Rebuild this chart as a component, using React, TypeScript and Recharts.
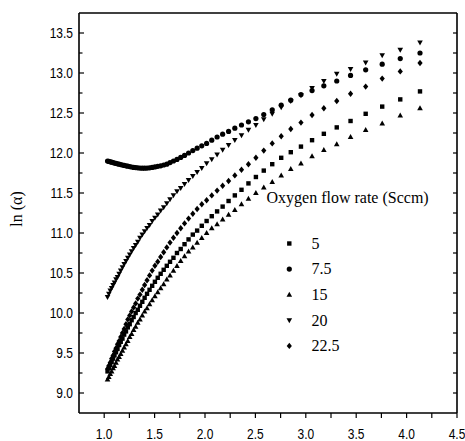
import React from 'react';
import { ScatterChart, Scatter, XAxis, YAxis } from 'recharts';

// Photon energy (eV) shared by all series
const energy = [
  1.033, 1.046, 1.060, 1.074, 1.088, 1.102, 1.117, 1.132, 1.148, 1.164,
  1.181, 1.198, 1.216, 1.234, 1.253, 1.272, 1.292, 1.312, 1.333, 1.355,
  1.378, 1.401, 1.425, 1.450, 1.476, 1.503, 1.531, 1.560, 1.590, 1.621,
  1.653, 1.687, 1.722, 1.759, 1.797, 1.837, 1.879, 1.922, 1.968, 2.016,
  2.067, 2.120, 2.175, 2.234, 2.296, 2.362, 2.431, 2.505, 2.583, 2.667,
  2.756, 2.851, 2.952, 3.062, 3.179, 3.307, 3.444, 3.594, 3.758, 3.937,
  4.133,
];

// ln(alpha) for oxygen flow 5 sccm
const flow5 = [
  9.27, 9.31, 9.35, 9.39, 9.43, 9.47, 9.51, 9.55, 9.60, 9.64,
  9.68, 9.73, 9.77, 9.82, 9.86, 9.91, 9.95, 10.00, 10.04, 10.09,
  10.14, 10.19, 10.24, 10.29, 10.34, 10.39, 10.44, 10.49, 10.54, 10.59,
  10.64, 10.69, 10.75, 10.80, 10.86, 10.92, 10.98, 11.03, 11.09, 11.15,
  11.21, 11.27, 11.33, 11.40, 11.47, 11.54, 11.62, 11.70, 11.78, 11.86,
  11.94, 12.01, 12.08, 12.16, 12.24, 12.32, 12.40, 12.49, 12.58, 12.67,
  12.77,
];

// 7.5 sccm
const flow7_5 = [
  11.90, 11.895, 11.89, 11.885, 11.88, 11.875, 11.87, 11.865, 11.86, 11.855,
  11.85, 11.845, 11.84, 11.835, 11.83, 11.825, 11.82, 11.818, 11.815, 11.812,
  11.81, 11.81, 11.812, 11.815, 11.82, 11.826, 11.833, 11.84, 11.85, 11.86,
  11.88, 11.90, 11.92, 11.945, 11.97, 12.00, 12.03, 12.06, 12.09, 12.12,
  12.16, 12.20, 12.235, 12.27, 12.31, 12.35, 12.39, 12.43, 12.48, 12.54,
  12.60, 12.66, 12.73, 12.78, 12.84, 12.90, 12.97, 13.04, 13.11, 13.18,
  13.25,
];

// 15 sccm
const flow15 = [
  9.17, 9.20, 9.24, 9.27, 9.31, 9.34, 9.38, 9.42, 9.45, 9.49,
  9.53, 9.57, 9.61, 9.65, 9.70, 9.74, 9.79, 9.83, 9.88, 9.92,
  9.97, 10.02, 10.06, 10.11, 10.16, 10.21, 10.26, 10.31, 10.36, 10.42,
  10.47, 10.53, 10.59, 10.65, 10.71, 10.77, 10.82, 10.88, 10.94, 11.00,
  11.06, 11.11, 11.17, 11.23, 11.29, 11.36, 11.43, 11.50, 11.57, 11.64,
  11.72, 11.80, 11.87, 11.96, 12.04, 12.11, 12.20, 12.29, 12.37, 12.47,
  12.56,
];

// 20 sccm
const flow20 = [
  10.20, 10.24, 10.28, 10.31, 10.35, 10.38, 10.42, 10.45, 10.49, 10.53,
  10.57, 10.61, 10.65, 10.69, 10.73, 10.77, 10.81, 10.85, 10.89, 10.94,
  10.98, 11.02, 11.06, 11.10, 11.15, 11.19, 11.23, 11.28, 11.32, 11.37,
  11.42, 11.47, 11.52, 11.56, 11.61, 11.66, 11.71, 11.76, 11.81, 11.87,
  11.92, 11.98, 12.04, 12.10, 12.16, 12.22, 12.29, 12.35, 12.42, 12.49,
  12.57, 12.65, 12.72, 12.81, 12.90, 12.99, 13.05, 13.13, 13.22, 13.29,
  13.38,
];

// 22.5 sccm
const flow22_5 = [
  9.30, 9.34, 9.38, 9.43, 9.47, 9.52, 9.56, 9.61, 9.65, 9.70,
  9.75, 9.80, 9.86, 9.92, 9.97, 10.02, 10.07, 10.12, 10.18, 10.23,
  10.29, 10.35, 10.41, 10.47, 10.53, 10.59, 10.64, 10.70, 10.76, 10.82,
  10.88, 10.94, 11.00, 11.06, 11.12, 11.18, 11.24, 11.30, 11.36, 11.41,
  11.47, 11.53, 11.59, 11.65, 11.72, 11.79, 11.86, 11.94, 12.03, 12.12,
  12.21, 12.30, 12.38, 12.475, 12.56, 12.65, 12.74, 12.83, 12.93, 13.02,
  13.125,
];

const seriesNames = ['5', '7.5', '15', '20', '22.5'];
const xTicks = [1.0, 1.25, 1.5, 1.75, 2.0, 2.25, 2.5, 2.75, 3.0, 3.25, 3.5, 3.75, 4.0, 4.25, 4.5];
const yTicks = [9.0, 9.25, 9.5, 9.75, 10.0, 10.25, 10.5, 10.75, 11.0, 11.25, 11.5, 11.75, 12.0, 12.25, 12.5, 12.75, 13.0, 13.25, 13.5];
const xDomain = [0.75, 4.5];
const yDomain = [8.75, 13.75];

const toPoints = (vals: number[]) => energy.map((x, i) => ({ x, y: vals[i] }));

const TICK_FONT = "'Liberation Sans', Arial, sans-serif";
const SERIF = "'Liberation Serif', 'Times New Roman', serif";
const NARROW = 0.8;
const isMajor = (v: number) => Math.abs(v * 2 - Math.round(v * 2)) < 1e-6;

const BottomTick = (props: any) => {
  const { x, y, payload } = props;
  const v = payload.value;
  return (
    <g>
      <line x1={x} y1={y} x2={x} y2={y + 5} stroke="#000" strokeWidth={1.2} />
      {isMajor(v) && (
        <text
          transform={`translate(${x},${y + 25.5}) scale(${NARROW},1)`}
          x={0}
          y={0}
          textAnchor="middle"
          fontSize={15}
          fontFamily={TICK_FONT}
          fill="#000"
        >
          {v.toFixed(1)}
        </text>
      )}
    </g>
  );
};

const TopTick = (props: any) => {
  const { x, y, payload } = props;
  const len = isMajor(payload.value) ? 6 : 3.5;
  return <line x1={x} y1={y} x2={x} y2={y + len} stroke="#000" strokeWidth={1.2} />;
};

const LeftTick = (props: any) => {
  const { x, y, payload } = props;
  const v = payload.value;
  const major = isMajor(v);
  return (
    <g>
      <line x1={x} y1={y} x2={x + (major ? 5 : 3.5)} y2={y} stroke="#000" strokeWidth={1.2} />
      {major && (
        <text
          transform={`translate(${x - 6},${y + 5.3}) scale(${NARROW},1)`}
          x={0}
          y={0}
          textAnchor="end"
          fontSize={15}
          fontFamily={TICK_FONT}
          fill="#000"
        >
          {v.toFixed(1)}
        </text>
      )}
    </g>
  );
};

const RightTick = (props: any) => {
  const { x, y } = props;
  return <line x1={x} y1={y} x2={x - 4} y2={y} stroke="#000" strokeWidth={1.2} />;
};

const Square = (p: any) => <rect x={p.cx - 2.2} y={p.cy - 2.2} width={4.4} height={4.4} fill="#000" />;
const Dot = (p: any) => <circle cx={p.cx} cy={p.cy} r={2.6} fill="#000" />;
const TriUp = (p: any) => (
  <polygon points={`${p.cx},${p.cy - 2.9} ${p.cx + 2.8},${p.cy + 2.1} ${p.cx - 2.8},${p.cy + 2.1}`} fill="#000" />
);
const TriDown = (p: any) => (
  <polygon points={`${p.cx},${p.cy + 2.9} ${p.cx + 2.8},${p.cy - 2.1} ${p.cx - 2.8},${p.cy - 2.1}`} fill="#000" />
);
const Diamond = (p: any) => (
  <polygon points={`${p.cx},${p.cy - 3.2} ${p.cx + 2.6},${p.cy} ${p.cx},${p.cy + 3.2} ${p.cx - 2.6},${p.cy}`} fill="#000" />
);

const shapes = [Square, Dot, TriUp, TriDown, Diamond];
const seriesData = [flow5, flow7_5, flow15, flow20, flow22_5];

const axisLine = { stroke: '#000', strokeWidth: 1.6 };

export default function App() {
  const legendTop = 243.5;
  const legendStep = 25.6;
  return (
    <div style={{ position: 'absolute', left: 0, top: 0, width: 465, height: 441, background: '#fff' }}>
      <ScatterChart width={465} height={441} margin={{ top: 12, right: 7, bottom: 27, left: 78 }}>
        <XAxis
          xAxisId={0}
          type="number"
          dataKey="x"
          domain={xDomain}
          ticks={xTicks}
          interval={0}
          height={1}
          tickSize={0}
          tickMargin={0}
          axisLine={axisLine}
          tickLine={false}
          tick={<BottomTick />}
          allowDataOverflow
        />
        <XAxis
          xAxisId="top"
          orientation="top"
          type="number"
          domain={xDomain}
          ticks={xTicks}
          interval={0}
          height={1}
          tickSize={0}
          tickMargin={0}
          axisLine={axisLine}
          tickLine={false}
          tick={<TopTick />}
          allowDataOverflow
        />
        <YAxis
          yAxisId={0}
          type="number"
          dataKey="y"
          domain={yDomain}
          ticks={yTicks}
          interval={0}
          width={1}
          tickSize={0}
          tickMargin={0}
          axisLine={axisLine}
          tickLine={false}
          tick={<LeftTick />}
          allowDataOverflow
        />
        <YAxis
          yAxisId="right"
          orientation="right"
          type="number"
          domain={yDomain}
          ticks={yTicks}
          interval={0}
          width={1}
          tickSize={0}
          tickMargin={0}
          axisLine={axisLine}
          tickLine={false}
          tick={<RightTick />}
          allowDataOverflow
        />
        {seriesData.map((vals, i) => (
          <Scatter
            key={seriesNames[i]}
            name={seriesNames[i]}
            xAxisId={0}
            yAxisId={0}
            data={toPoints(vals)}
            shape={shapes[i]}
            isAnimationActive={false}
          />
        ))}
      </ScatterChart>
      <svg
        width={465}
        height={441}
        style={{ position: 'absolute', left: 0, top: 0, pointerEvents: 'none' }}
      >
        <text
          transform="translate(22,209) rotate(-90)"
          textAnchor="middle"
          fontSize={16}
          fontFamily={SERIF}
          fill="#000"
        >
          ln (α)
        </text>
        <text x={266.5} y={203} fontSize={16} fontFamily={SERIF} fill="#000">
          Oxygen flow rate (Sccm)
        </text>
        {seriesNames.map((n, i) => {
          const cy = legendTop + i * legendStep;
          const Shape = shapes[i];
          return (
            <g key={n}>
              <Shape cx={289.3} cy={cy} />
              <text x={311.5} y={cy + 5.3} fontSize={16} fontFamily={SERIF} fill="#000">
                {n}
              </text>
            </g>
          );
        })}
      </svg>
    </div>
  );
}
